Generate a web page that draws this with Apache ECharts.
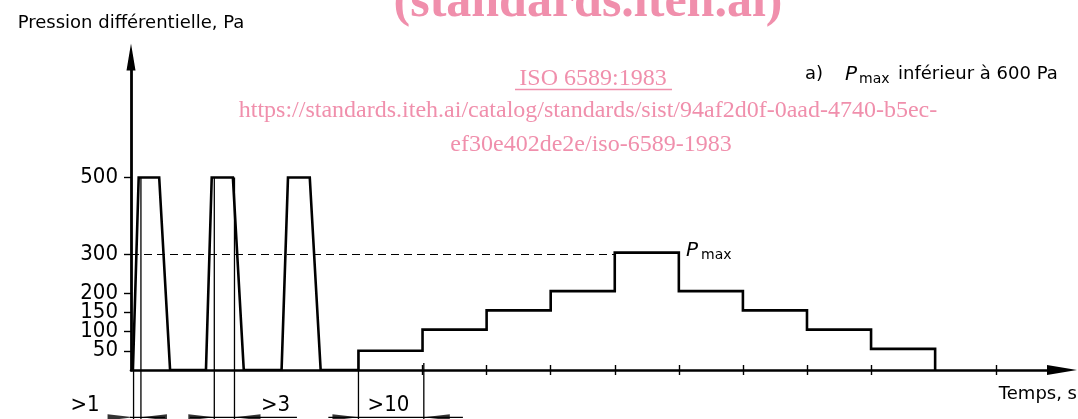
<!DOCTYPE html>
<html>
<head>
<meta charset="utf-8">
<title>Pression différentielle</title>
<script src="https://cdn.jsdelivr.net/npm/echarts@6/dist/echarts.min.js"></script>
<style>
  html, body { margin: 0; padding: 0; background: #fff; }
  #main { width: 1078px; height: 419px; }
</style>
</head>
<body>
<div id="main"></div>
<script>
// y ticks (Pa) and x ticks (time, arbitrary units: one step = 10)
const yTicks = [50, 100, 150, 200, 300, 500];
const xTicks = [45.5, 55.5, 65.5, 75.5, 85.5, 95.5, 105.5, 115.5, 135];

// three short pulses up to 500 Pa
const pulseStart = [0.3, 11.7, 23.5];
const pulseTopStart = [1.2, 12.6, 24.5];
const pulseTopEnd = [4.4, 15.9, 27.9];
const pulseEnd = [6.1, 17.6, 29.6];
const pulsePeak = 500;

// staircase up to Pmax and back down
const stepEdges = [35.5, 45.5, 55.5, 65.5, 75.5, 85.5, 95.5, 105.5, 115.5, 125.5];
const stepLevels = [50, 105, 155, 205, 305, 205, 155, 105, 55];

// dashed reference line at 300 Pa
const refLevel = 300;
const refEnd = 75.5;

// dimension marks under the time axis
const dimFrom = [0.4, 13.0, 35.5];
const dimTo = [1.55, 16.15, 45.7];
const dimFromTop = [0, 500, 50];
const dimToTop = [500, 500, 18];
const dimLineStart = [-11, 9.2, 30.8];
const dimLineEnd = [5.3, 25.9, 51.8];
const dimLevel = -123;
const dimBottom = -130;

const pink = '#f08fac';
const condensed = '"DejaVu Sans Condensed", "DejaVu Sans", sans-serif';
const sans = '"DejaVu Sans", sans-serif';
const serif = '"Liberation Serif", "DejaVu Serif", serif';

// build the pressure profile
let profile = [];
pulseStart.forEach((s, i) => {
  profile.push([s, 0], [pulseTopStart[i], pulsePeak], [pulseTopEnd[i], pulsePeak], [pulseEnd[i], 0]);
});
profile.push([stepEdges[0], 0]);
stepLevels.forEach((v, i) => {
  profile.push([stepEdges[i], v], [stepEdges[i + 1], v]);
});
profile.push([stepEdges[stepEdges.length - 1], 0]);

// dimension lines (segments separated by '-')
let dimLines = [];
let dimArrows = [];
dimFrom.forEach((f, i) => {
  dimLines.push([f, dimFromTop[i]], [f, dimBottom], '-');
  dimLines.push([dimTo[i], dimToTop[i]], [dimTo[i], dimBottom], '-');
  dimLines.push([dimLineStart[i], dimLevel], [dimLineEnd[i], dimLevel], '-');
  dimArrows.push({
    value: [f, dimLevel],
    symbol: 'path://M0,0L30,3L0,6Z',
    symbolOffset: [-13, 0]
  });
  dimArrows.push({
    value: [dimTo[i], dimLevel],
    symbol: 'path://M30,0L0,3L30,6Z',
    symbolOffset: [13, 0]
  });
});

const chart = echarts.init(document.getElementById('main'), null, { renderer: 'canvas' });

let option = {
  animation: false,
  backgroundColor: '#fff',
  grid: { left: 131, right: 16, top: 57, bottom: 49 },
  xAxis: [{
    type: 'value',
    min: 0,
    max: 145.3,
    position: 'bottom',
    axisLine: {
      show: true,
      symbol: ['none', 'triangle'],
      symbolSize: [10, 30],
      lineStyle: { color: '#000', width: 2.6 }
    },
    axisTick: {
      show: true,
      customValues: xTicks,
      length: 5,
      lineStyle: { color: '#000', width: 1.4 }
    },
    axisLabel: { show: false },
    splitLine: { show: false }
  }, {
    // same axis again, ticks going up from the zero line
    type: 'value',
    min: 0,
    max: 145.3,
    position: 'top',
    axisLine: { show: false, onZero: true, onZeroAxisIndex: 0 },
    axisTick: {
      show: true,
      customValues: xTicks,
      length: 5,
      lineStyle: { color: '#000', width: 1.4 }
    },
    axisLabel: { show: false },
    splitLine: { show: false }
  }],
  yAxis: {
    type: 'value',
    min: 0,
    max: 813,
    name: 'Pression différentielle, Pa',
    nameLocation: 'end',
    nameGap: 25,
    nameTextStyle: { color: '#000', fontFamily: sans, fontSize: 18 },
    axisLine: {
      show: true,
      symbol: ['none', 'triangle'],
      symbolSize: [9, 27],
      lineStyle: { color: '#000', width: 2.8 }
    },
    axisTick: {
      show: true,
      customValues: yTicks,
      length: 7,
      lineStyle: { color: '#000', width: 1.4 }
    },
    axisLabel: {
      // an empty label at 0 keeps the packed 50/100 labels from being dropped
      customValues: [0].concat(yTicks),
      showMinLabel: true,
      hideOverlap: false,
      margin: 13,
      formatter: v => (v === 0 ? '{e| }' : '{v|' + v + '}'),
      rich: {
        v: { color: '#000', fontFamily: condensed, fontSize: 22, lineHeight: 14 },
        e: { fontSize: 1, lineHeight: 1 }
      }
    },
    splitLine: { show: false }
  },
  series: [{
    type: 'line',
    data: [[0, refLevel], [refEnd, refLevel]],
    symbol: 'none',
    silent: true,
    lineStyle: { color: '#000', width: 1.2, type: [8, 5] }
  }, {
    type: 'line',
    data: profile,
    symbol: 'none',
    silent: true,
    lineStyle: { color: '#000', width: 2.6, join: 'miter' }
  }, {
    type: 'line',
    data: dimLines,
    symbol: 'none',
    clip: false,
    silent: true,
    connectNulls: false,
    lineStyle: { color: '#000', width: 1.3 }
  }, {
    type: 'scatter',
    data: dimArrows,
    symbolSize: [26, 6],
    clip: false,
    silent: true,
    itemStyle: { color: '#000' }
  }],
  graphic: [
    // watermark texts
    { type: 'text', style: { text: '(standards.iteh.ai)', x: 588, y: 3, align: 'center', verticalAlign: 'middle', font: 'bold 50px ' + serif, fill: pink } },
    { type: 'text', style: { text: 'ISO 6589:1983', x: 593, y: 79, align: 'center', verticalAlign: 'middle', font: '24px ' + serif, fill: pink } },
    { type: 'line', shape: { x1: 515, y1: 89.5, x2: 672, y2: 89.5 }, style: { stroke: pink, lineWidth: 1.3 } },
    { type: 'text', style: { text: 'https://standards.iteh.ai/catalog/standards/sist/94af2d0f-0aad-4740-b5ec-', x: 588, y: 111, align: 'center', verticalAlign: 'middle', font: '24px ' + serif, fill: pink } },
    { type: 'text', style: { text: 'ef30e402de2e/iso-6589-1983', x: 591, y: 144.5, align: 'center', verticalAlign: 'middle', font: '24px ' + serif, fill: pink } },
    // caption a)
    { type: 'text', style: { text: 'a)', x: 805, y: 74.5, align: 'left', verticalAlign: 'middle', font: '18px ' + sans, fill: '#000' } },
    { type: 'text', style: { text: 'P', x: 845, y: 74.5, align: 'left', verticalAlign: 'middle', font: 'italic 20px ' + sans, fill: '#000' } },
    { type: 'text', style: { text: 'max', x: 859, y: 79, align: 'left', verticalAlign: 'middle', font: '14px ' + sans, fill: '#000' } },
    { type: 'text', style: { text: 'inférieur à 600 Pa', x: 898, y: 74.5, align: 'left', verticalAlign: 'middle', font: '18px ' + sans, fill: '#000' } },
    // Pmax label
    { type: 'text', style: { text: 'P', x: 686, y: 251, align: 'left', verticalAlign: 'middle', font: 'italic 20px ' + sans, fill: '#000' } },
    { type: 'text', style: { text: 'max', x: 701, y: 255, align: 'left', verticalAlign: 'middle', font: '14px ' + sans, fill: '#000' } },
    // axis name
    { type: 'text', style: { text: 'Temps, s', x: 1077, y: 394.5, align: 'right', verticalAlign: 'middle', font: '18px ' + sans, fill: '#000' } },
    // dimension texts
    { type: 'text', style: { text: '>1', x: 85, y: 405, align: 'center', verticalAlign: 'middle', font: '22px ' + condensed, fill: '#000' } },
    { type: 'text', style: { text: '>3', x: 275.5, y: 405, align: 'center', verticalAlign: 'middle', font: '22px ' + condensed, fill: '#000' } },
    { type: 'text', style: { text: '>10', x: 388.5, y: 405, align: 'center', verticalAlign: 'middle', font: '22px ' + condensed, fill: '#000' } }
  ]
};

chart.setOption(option);
</script>
</body>
</html>
